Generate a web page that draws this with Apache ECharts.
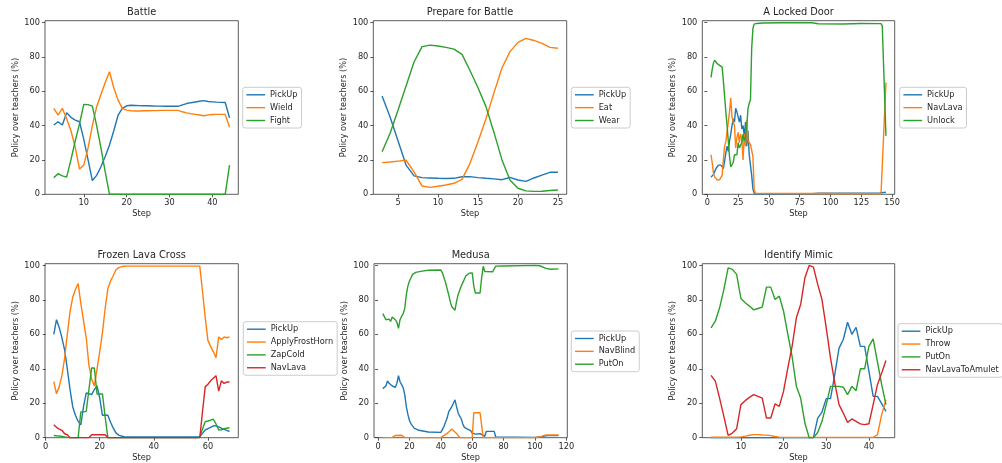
<!DOCTYPE html>
<html><head><meta charset="utf-8">
<script src="https://cdn.jsdelivr.net/npm/echarts@6/dist/echarts.min.js"></script>
<style>html,body{margin:0;padding:0;background:#fff}#c{width:1002px;height:463px}</style>
</head><body><div id="c"></div>
<script>
// ---------- Battle ----------
const battleSteps = [3,4,5,6,7,8,9,10,11,12,13,14,15,16,17,18,19,20,21,22,23,24,25,26,27,28,29,30,31,32,33,34,35,36,37,38,39,40,41,42,43,44];
const battlePickUp = [40.3,42.2,40.3,47.5,44.8,43.2,42.2,32,20,8,11,16,22,28.7,37,46,50,51.5,51.8,51.7,51.6,51.5,51.5,51.4,51.3,51.3,51.2,51.2,51.2,51.2,52,52.8,53.3,53.7,54.1,54.5,54,53.8,53.6,53.5,53.4,44.5];
const battleWield = [50,46,50,44,37,27.5,14.7,17,27,40,51,58,65,71.3,62,54.8,50,49,48.6,48.5,48.5,48.6,48.6,48.7,48.7,48.8,48.8,48.8,48.8,48.8,48,47.4,46.9,46.5,46.1,45.7,46.2,46.4,46.5,46.5,46.5,39];
const battleFight = [9.7,12,10.7,10,20,31,41,52.3,52.2,51.3,40,27,13,0,0,0,0,0,0,0,0,0,0,0,0,0,0,0,0,0,0,0,0,0,0,0,0,0,0,0,0,17];
const battleTicks = [10,20,30,40];

// ---------- Prepare for Battle ----------
const prepSteps = [3,4,5,6,7,8,9,10,11,12,13,14,15,16,17,18,19,20,21,22,23,24,25];
const prepPickUp = [57.2,45,31,17,10.7,9.7,9.5,9.3,9.2,9.3,10.2,10.3,9.7,9.3,9,8.5,9.8,8.3,7.5,9.5,11.2,12.8,12.8];
const prepEat = [18.4,18.8,19.3,19.8,13,4.8,4,4.7,5.4,6.4,8.7,18,30.6,44,59,73.5,83,88.4,90.7,89.5,87.8,85.5,85];
const prepWear = [24.8,35.5,49,63,77,85.9,86.8,86.3,85.5,84.5,81.4,72,62,51,36,20,8.3,3.5,2,1.7,1.8,2.2,2.5];
const prepTicks = [5,10,15,20,25];

// ---------- A Locked Door ([step, value]) ----------
const doorPickUp = [[3,10],[5,11.6],[7,15],[9,17],[11,17],[12,16.7],[13,15],[14,14.5],[15,24],[16,28],[17,25],[18,31],[19,35],[20,40],[21,44],[22,42],[23,50],[24,48],[25,49],[26,42],[27,46],[28,38],[29,40],[30,34],[31,42],[32,28],[33,37],[34,23],[35,17],[36,11],[37,3],[38,0.6],[40,0.3],[85,0.4],[90,0.6],[140,0.8],[145,1.2]];
const doorNavLava = [[3,23],[4,18],[5,12],[6,10],[7,9],[8,8.3],[9,8],[10,8.5],[11,9.5],[12,11],[13,20],[14,28],[15,30.6],[16,31],[17,42],[18,48],[19,56],[20,45],[21,42],[22,40],[23,27],[24,33],[25,36],[26,30],[27,35],[28,32],[29,20],[30,35],[31,28],[32,43],[33,31],[34,30],[35,29],[36,28],[37,22],[38,3],[39,0.6],[40,0.3],[141,0.3],[142,1],[145,65]];
const doorUnlock = [[3,68],[4,73],[5,76.5],[6,78],[7,77],[8,76],[9,75.5],[10,75],[11,74.5],[12,74],[13,66],[14,57],[15,48],[16,40],[17,31],[18,22],[19,16],[20,17],[21,18.5],[22,23],[23,24],[24,23],[25,30],[26,27],[27,26],[28,30],[29,35],[30,31],[31,33],[32,40],[33,50],[34,53],[35,55],[36,85],[37,96.5],[38,99],[40,99.4],[45,99.7],[60,99.8],[85,99.8],[90,99.2],[110,99.1],[125,99.4],[141,99.3],[142,98],[145,34]];
const doorTicks = [0,25,50,75,100,125,150];

// ---------- Frozen Lava Cross ([step, value]) ----------
const lavaPickUp = [[3,60],[4,68.5],[5,64],[6,58],[7,51],[8,40],[9,28],[10,18],[11,13],[12,9.5],[13,7.5],[14,18],[15,26],[16,25.5],[17,25],[18,28],[19,30],[20,23],[21,13],[22,13.2],[23,13],[24,9],[25,5.5],[26,2.8],[27,1.5],[28,1],[29,0.6],[30,0.4],[56,0.4],[57,0.5],[58,2.5],[59,4.5],[60,5.2],[61,6],[62,6.8],[63,7],[64,6.3],[65,5.5],[66,4.8],[67,4.2],[68,3.6]];
const lavaFrostHorn = [[3,32.5],[4,25.5],[5,29.5],[6,36],[7,46],[8,60],[9,73],[10,81.5],[11,86],[12,89.5],[13,78],[14,68],[15,58],[16,42],[17,34],[18,30],[19,40],[20,50],[21,61],[22,75],[23,86.5],[24,91],[25,94],[26,97.5],[27,98.7],[28,99.2],[29,99.5],[30,99.6],[57,99.6],[58,85],[59,70],[60,56.5],[61,53],[62,50],[63,46.5],[64,58.5],[65,57],[66,58.5],[67,58],[68,58.5]];
const lavaZapCold = [[3,1.3],[4,1.1],[5,1],[6,0.8],[7,0.5],[8,0.2],[9,0],[12,0],[13,15],[14,15],[15,15.3],[16,28],[17,40.5],[18,40.5],[19,25.4],[20,25.4],[21,25.4],[22,12],[23,0],[56,0],[57,0.5],[58,5],[59,9.3],[60,9.7],[61,10.2],[62,10.7],[63,8],[64,4.5],[65,4.6],[66,5.2],[67,5.5],[68,5.8]];
const lavaNavLava = [[3,7.5],[4,6],[5,5],[6,4.3],[7,2.3],[8,1.7],[9,0],[16,0],[17,1.7],[22,1.7],[23,0],[57,0],[58,15],[59,29.5],[60,31],[61,33],[62,34.5],[63,36],[64,27],[65,33],[66,31.5],[67,32.3],[68,32.3]];
const lavaTicks = [0,20,40,60];

// ---------- Medusa ([step, value]) ----------
const medusaPickUp = [[3,28.5],[4,28.5],[5,30],[6,33],[7,31.6],[8,32.6],[9,30],[10,29.5],[11,29.3],[12,31.6],[13,36],[14,32.5],[15,30.8],[16,29],[17,25],[18,18],[19,13.5],[20,10],[21,8],[23,5.6],[26,4.3],[32,3.3],[40,3.1],[42,6.6],[44,11.4],[45,15],[46,16],[47,18],[48,20],[49,22],[50,18],[51,14.5],[52,12.5],[53,11],[54,8],[55,6],[57,5],[59,4.1],[60,2.7],[62,2.1],[65,2.3],[66,1.2],[68,0.8],[69,3.7],[74,3.7],[75,0.4],[100,0.2],[105,0.8],[108,1.2],[115,1.2]];
const medusaNavBlind = [[3,0],[9,0.2],[11,1.3],[15,1.4],[17,0.1],[40,0],[44,2.5],[47,5],[50,2.5],[52,0],[60,0],[61,14.5],[65,14.5],[67,0],[100,0],[104,0.8],[107,1.6],[115,1.6]];
const medusaPutOn = [[3,72],[4,71.8],[5,68.5],[6,67.5],[7,68.8],[8,67.5],[9,70],[10,71],[11,68.5],[12,67],[13,63.5],[14,68.5],[15,70.5],[16,72],[17,75],[18,83],[19,88],[20,91],[22,94.8],[24,96],[28,96.7],[32,97.2],[40,97.3],[41,95.7],[43,90],[45,83],[46,79],[47,76],[48,75],[49,74],[50,79],[51,83],[53,88],[54,90],[56,94],[58,95.5],[60,95.7],[61,88],[62,84],[65,84],[66,92.8],[67,99.5],[68,96.5],[73,96.3],[74,97],[75,99.6],[80,99.7],[100,100],[103,99.8],[107,98.3],[110,97.8],[115,98]];
const medusaTicks = [0,20,40,60,80,100,120];

// ---------- Identify Mimic ----------
const mimicSteps = [3,4,5,6,7,8,9,10,11,12,13,14,15,16,17,18,19,20,21,22,23,24,25,26,27,28,29,30,31,32,33,34,35,36,37,38,39,40,41,42,43,44];
const mimicPickUp = [0,0,0,0,0,0,0,0,0,0,0,0,0,0,0,0,0,0,0,0,0,0,0,0,0,11.4,14.9,22.7,22.7,36.6,52,57,67,60,64,53,53,38.6,24,24,19.8,15.3];
const mimicThrow = [0.3,0.3,0.3,0.3,0.3,0.3,0.3,0.5,0.9,1.4,1.8,1.8,1.6,1.5,1.2,0.7,0.3,0.2,0.2,0.2,0.2,0.2,0.2,0.2,0.2,0.2,0.2,0.2,0.2,0.2,0.2,0.2,0.2,0.2,0.2,0.2,0.2,0.2,0.2,1.7,13.4,22];
const mimicPutOn = [63.8,67.6,75.4,86,98.6,97.7,94.8,80.8,78.3,76.4,74.2,75,75.8,87.4,87.4,80.2,82.2,73.4,60,47,29.8,23,8.5,0,0,3,9.5,19.2,29.8,29.8,29.8,29.3,25,29.8,27.3,40,40,53,57.4,44,30.8,19.2];
const mimicNavLavaToAmulet = [36.2,32.8,23,12.4,1.4,2.7,5.2,19.2,21.5,23.4,25,24,23,11.4,11.4,19.6,18.2,27,40.5,53,69.6,77.3,92.8,100,99,89,80.2,63.8,46.3,31.8,19.2,14.3,8.9,10.9,9.5,8,7.6,8.1,19.2,30.8,37.6,44.8];
const mimicTicks = [10,20,30,40];

const yTicks = [0,20,40,60,80,100];

// ---------- build ----------
const zip = (xs, ys) => xs.map((x, i) => [x, ys[i]]);
const BLUE = '#1f77b4', ORANGE = '#ff7f0e', GREEN = '#2ca02c', RED = '#d62728';
const FONT = 'DejaVu Sans';
const TXT = '#262626';

const panels = [
  {title:'Battle', grid:{left:45, top:20.7, width:193.3, height:173.6}, x:[0.95,46.05], xt:battleTicks, lg:[242.7,87.3],
   s:[['PickUp', zip(battleSteps,battlePickUp), BLUE],['Wield', zip(battleSteps,battleWield), ORANGE],['Fight', zip(battleSteps,battleFight), GREEN]]},
  {title:'Prepare for Battle', grid:{left:373.3, top:20.7, width:193.4, height:173.6}, x:[1.9,26.1], xt:prepTicks, lg:[571.3,87.3],
   s:[['PickUp', zip(prepSteps,prepPickUp), BLUE],['Eat', zip(prepSteps,prepEat), ORANGE],['Wear', zip(prepSteps,prepWear), GREEN]]},
  {title:'A Locked Door', grid:{left:702.3, top:20.7, width:192.4, height:173.6}, x:[-4.1,152.1], xt:doorTicks, lg:[899.7,87.3],
   s:[['PickUp', doorPickUp, BLUE],['NavLava', doorNavLava, ORANGE],['Unlock', doorUnlock, GREEN]]},
  {title:'Frozen Lava Cross', grid:{left:45, top:263.7, width:193.3, height:174}, x:[-0.25,71.25], xt:lavaTicks, lg:[243.3,321.7],
   s:[['PickUp', lavaPickUp, BLUE],['ApplyFrostHorn', lavaFrostHorn, ORANGE],['ZapCold', lavaZapCold, GREEN],['NavLava', lavaNavLava, RED]]},
  {title:'Medusa', grid:{left:374, top:263.7, width:193.3, height:174}, x:[-2.6,120.6], xt:medusaTicks, lg:[571.3,331],
   s:[['PickUp', medusaPickUp, BLUE],['NavBlind', medusaNavBlind, ORANGE],['PutOn', medusaPutOn, GREEN]]},
  {title:'Identify Mimic', grid:{left:702.3, top:263.7, width:192.4, height:174}, x:[0.95,46.05], xt:mimicTicks, lg:[898,323.7],
   s:[['PickUp', zip(mimicSteps,mimicPickUp), BLUE],['Throw', zip(mimicSteps,mimicThrow), ORANGE],['PutOn', zip(mimicSteps,mimicPutOn), GREEN],['NavLavaToAmulet', zip(mimicSteps,mimicNavLavaToAmulet), RED]]}
];

const option = {animation:false, backgroundColor:'#fff', title:[], grid:[], xAxis:[], yAxis:[], legend:[], series:[]};
panels.forEach((p, i) => {
  const g = p.grid;
  option.grid.push({left:g.left, top:g.top, width:g.width, height:g.height, show:true, borderColor:'#333', borderWidth:0.8, backgroundColor:'transparent', containLabel:false});
  option.title.push({text:p.title, left:g.left + g.width/2, top:g.top - 14, textAlign:'center', padding:0,
    textStyle:{fontFamily:FONT, fontSize:9.8, fontWeight:'normal', color:TXT, lineHeight:12}});
  option.xAxis.push({type:'value', gridIndex:i, min:p.x[0], max:p.x[1], name:'Step', nameLocation:'middle', nameGap:16,
    nameTextStyle:{fontFamily:FONT, fontSize:8.2, color:TXT},
    axisLine:{show:false}, splitLine:{show:false},
    axisTick:{show:true, length:3, lineStyle:{color:'#333', width:0.8}, customValues:p.xt},
    axisLabel:{fontFamily:FONT, fontSize:8.2, color:TXT, margin:5, customValues:p.xt}});
  option.yAxis.push({type:'value', gridIndex:i, min:0, max:101, name:'Policy over teachers (%)', nameLocation:'middle', nameGap:25.5,
    nameTextStyle:{fontFamily:FONT, fontSize:8.2, color:TXT},
    axisLine:{show:false}, splitLine:{show:false},
    axisTick:{show:true, length:3, lineStyle:{color:'#333', width:0.8}, customValues:yTicks},
    axisLabel:{fontFamily:FONT, fontSize:8.2, color:TXT, margin:5, customValues:yTicks}});
  const names = [];
  p.s.forEach(([name, data, color]) => {
    const id = 'p' + i + ':' + name;
    names.push(id);
    option.series.push({type:'line', name:id, xAxisIndex:i, yAxisIndex:i, data:data, symbol:'none', showSymbol:false,
      lineStyle:{color:color, width:1.4}, itemStyle:{color:color}, clip:true, silent:true});
  });
  option.legend.push({data:names, orient:'vertical', left:p.lg[0], top:p.lg[1], padding:[2.5,4,2.5,3],
    itemWidth:18.7, itemHeight:10, itemGap:2.85, selectedMode:false,
    itemStyle:{opacity:0, borderWidth:0}, lineStyle:{width:1.4, opacity:1},
    formatter:(n) => n.split(':')[1],
    textStyle:{fontFamily:FONT, fontSize:8.2, color:TXT, lineHeight:10},
    borderColor:'#cccccc', borderWidth:1, borderRadius:2.5, backgroundColor:'rgba(255,255,255,0.8)'});
});

const chart = echarts.init(document.getElementById('c'), null, {renderer:'canvas'});
chart.setOption(option);
</script>
</body></html>
